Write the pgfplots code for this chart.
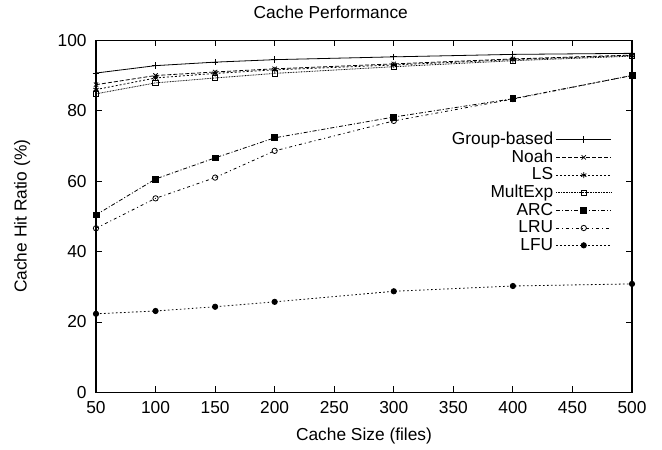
\documentclass[border=0pt]{standalone}
\usepackage{fontspec}
\setmainfont{Liberation Sans}
\usepackage{pgfplots}
\pgfplotsset{compat=1.18}

\begin{document}
\fontsize{13}{15}\selectfont
\begin{tikzpicture}
\begin{axis}[scale only axis,width=402pt,height=264pt,
  xmin=50,xmax=500,ymin=0,ymax=100,
  xtick={50,100,...,500},ytick={0,20,...,100},
  /pgf/number format/assume math mode=true,
  major tick length=4.5pt,
  axis line style={line width=0.8pt},
  every tick/.style={black,line width=0.6pt},
  xticklabel style={yshift=-2.5pt},
  yticklabel style={xshift=-2.5pt},
  title={Cache Performance},
  every axis title shift=0pt,
  title style={at={(axis description cs:0.438,1.08)},anchor=center},
  xlabel={Cache Size (files)},
  ylabel={Cache Hit Ratio (\%)},
  xlabel style={at={(axis description cs:0.5,-0.123)},anchor=center},
  ylabel style={at={(axis description cs:-0.138,0.5)},anchor=center},
  every axis plot/.append style={black,line width=0.6pt,mark size=2pt},
  legend plot pos=right,
  legend cell align=right,
  legend style={at={(0.965,0.752)},anchor=north east,draw=none,fill=none,
    row sep=-1.9pt,inner sep=1pt},
  legend image code/.code={
    \draw[#1,mark=none] (0cm,0cm) -- (1.45cm,0cm);
    \draw[#1] plot coordinates {(0.725cm,0cm)};},
]
\addplot[solid,mark=+,mark size=2.5pt] coordinates {
 (50,90.7)(100,92.8)(150,93.8)(200,94.5)(300,95.3)(400,96.0)(500,96.3)};
\addlegendentry{Group-based}
\addplot[dash pattern=on 3pt off 1.5pt,mark=x,mark options={solid},mark size=2.3pt] coordinates {
 (50,87.4)(100,90.0)(150,91.0)(200,91.9)(300,93.3)(400,94.7)(500,95.8)};
\addlegendentry{Noah}
\addplot[dash pattern=on 1.5pt off 1.5pt,mark=asterisk,mark options={solid},mark size=2.3pt] coordinates {
 (50,86.0)(100,89.3)(150,90.6)(200,91.6)(300,93.0)(400,94.5)(500,95.7)};
\addlegendentry{LS}
\addplot[dash pattern=on 0.6pt off 0.6pt,mark=square,mark options={solid},mark size=2pt] coordinates {
 (50,84.8)(100,87.9)(150,89.3)(200,90.6)(300,92.5)(400,94.2)(500,95.5)};
\addlegendentry{MultExp}
\addplot[dash pattern=on 3pt off 1.5pt on 0.75pt off 1.5pt,mark=square*,mark options={solid},mark size=2.2pt] coordinates {
 (50,50.4)(100,60.6)(150,66.6)(200,72.3)(300,78.2)(400,83.4)(500,90.0)};
\addlegendentry{ARC}
\addplot[dash pattern=on 2.25pt off 2.25pt on 0.75pt off 2.25pt,mark=o,mark options={solid},mark size=2pt] coordinates {
 (50,46.6)(100,55.1)(150,61.0)(200,68.6)(300,77.1)(400,83.3)(500,90.0)};
\addlegendentry{LRU}
\addplot[dash pattern=on 1.2pt off 1.8pt,mark=*,mark options={solid},mark size=2pt] coordinates {
 (50,22.3)(100,23.1)(150,24.3)(200,25.7)(300,28.7)(400,30.2)(500,30.8)};
\addlegendentry{LFU}
\end{axis}
\path ([xshift=-72pt,yshift=-42.75pt]current axis.south west) rectangle ([xshift=22.5pt,yshift=30pt]current axis.north east);
\end{tikzpicture}
\end{document}
